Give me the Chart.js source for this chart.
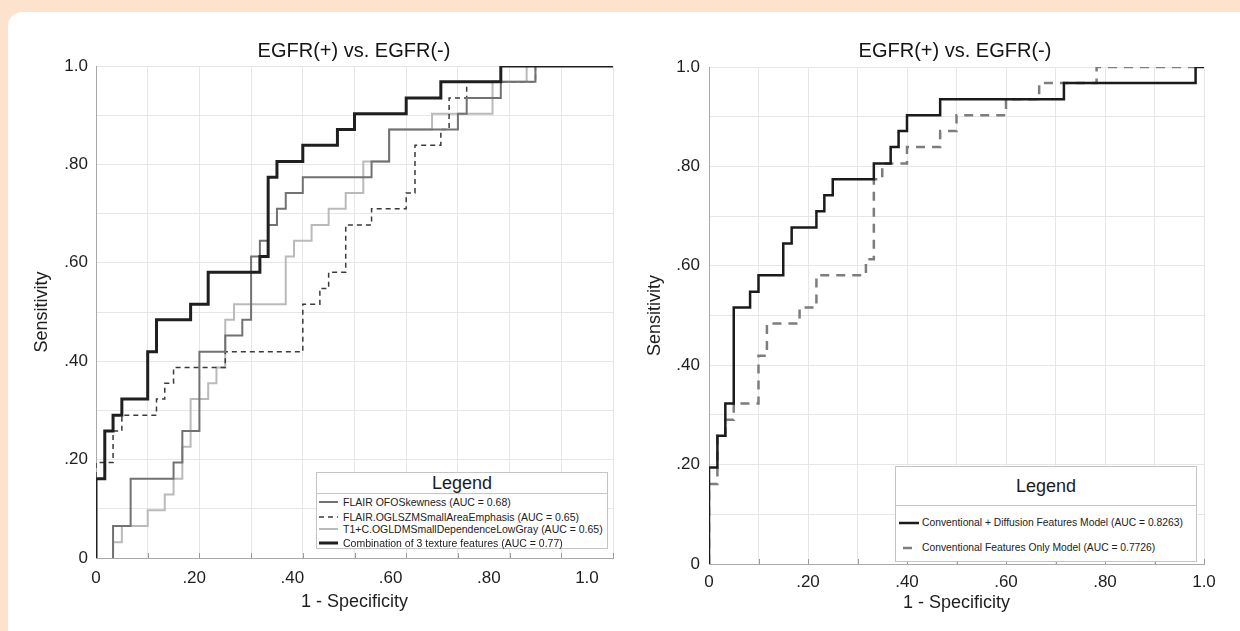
<!DOCTYPE html>
<html>
<head>
<meta charset="utf-8">
<script src="https://cdn.jsdelivr.net/npm/chart.js@4.4.1/dist/chart.umd.min.js"></script>
<style>
html,body{margin:0;padding:0;}
body{width:1240px;height:631px;background:#fde2cd;position:relative;overflow:hidden;font-family:"Liberation Sans",Arial,Helvetica,sans-serif;color:#1c1c1c;}
#card{position:absolute;left:8px;top:12px;width:1260px;height:660px;background:#ffffff;border-radius:14px;}
canvas.cv{position:absolute;top:0;}
.title{position:absolute;font-size:20px;color:#151515;white-space:nowrap;transform:translate(-50%,-50%);line-height:24px;}
.legend{position:absolute;background:#fff;border:1px solid #c4c4c4;box-sizing:border-box;}
.lgTitle{position:absolute;left:0;right:0;text-align:center;font-size:18px;color:#1c1c1c;}
.sep{position:absolute;left:0;right:0;height:0;border-top:1px solid #c4c4c4;}
.row{position:absolute;left:0;right:0;height:14px;}
.row svg{position:absolute;top:0;}
.row span{position:absolute;top:0;line-height:14px;white-space:nowrap;color:#222;}
</style>
</head>
<body>
<div id="card"></div>
<canvas id="leftChart" class="cv" width="620" height="631" style="left:0px"></canvas>
<canvas id="rightChart" class="cv" width="620" height="631" style="left:620px"></canvas>
<div class="title" id="titleL" style="left:354px;top:50px"></div>
<div class="title" id="titleR" style="left:955px;top:50px"></div>
<div class="legend" id="legL" style="left:316px;top:472px;width:292px;height:77px;"></div>
<div class="legend" id="legR" style="left:895px;top:466px;width:302px;height:96px;"></div>
<script>
// ---------- text ----------
const chartTitle = 'EGFR(+) vs. EGFR(-)';
const xAxisTitle = '1 - Specificity';
const yAxisTitle = 'Sensitivity';
const legendTitle = 'Legend';
const tickLabels = ['0', '.20', '.40', '.60', '.80', '1.0'];
const gridValues = [0, 0.1, 0.2, 0.3, 0.4, 0.5, 0.6, 0.7, 0.8, 0.9, 1.0];
// left chart: x tick labels are printed on their own (slightly compressed) scale
const leftLabelValues = [0, 0.2, 0.4, 0.6, 0.8, 1.0];
const leftLabelMax = 1.053;

// ---------- left chart series (ROC points: 1-specificity, sensitivity) ----------
const leftNames = [
  'FLAIR OFOSkewness (AUC = 0.68)',
  'FLAIR.OGLSZMSmallAreaEmphasis (AUC = 0.65)',
  'T1+C.OGLDMSmallDependenceLowGray (AUC = 0.65)',
  'Combination of 3 texture features (AUC = 0.77)'
];
const skewFpr = [0.033, 0.033, 0.067, 0.150, 0.167, 0.200, 0.250, 0.283, 0.300, 0.317, 0.333, 0.350, 0.367, 0.400, 0.533, 0.567, 0.700, 0.717, 0.783, 0.850, 1.000];
const skewTpr = [0.000, 0.065, 0.161, 0.194, 0.258, 0.419, 0.452, 0.484, 0.613, 0.645, 0.677, 0.710, 0.742, 0.774, 0.806, 0.871, 0.903, 0.935, 0.968, 1.000, 1.000];
const glszmFpr = [0.000, 0.000, 0.033, 0.050, 0.117, 0.133, 0.150, 0.250, 0.400, 0.433, 0.450, 0.483, 0.533, 0.600, 0.617, 0.667, 0.683, 0.717, 0.850, 1.000];
const glszmTpr = [0.000, 0.194, 0.258, 0.290, 0.323, 0.355, 0.387, 0.419, 0.516, 0.548, 0.581, 0.677, 0.710, 0.742, 0.839, 0.871, 0.935, 0.968, 1.000, 1.000];
const gldmFpr = [0.033, 0.033, 0.050, 0.100, 0.133, 0.150, 0.167, 0.183, 0.217, 0.233, 0.250, 0.267, 0.367, 0.383, 0.417, 0.450, 0.483, 0.517, 0.567, 0.650, 0.767, 0.833, 1.000];
const gldmTpr = [0.000, 0.032, 0.065, 0.097, 0.129, 0.161, 0.226, 0.323, 0.355, 0.387, 0.484, 0.516, 0.613, 0.645, 0.677, 0.710, 0.742, 0.806, 0.871, 0.903, 0.968, 1.000, 1.000];
const comboFpr = [0.000, 0.000, 0.017, 0.033, 0.050, 0.100, 0.117, 0.183, 0.217, 0.317, 0.333, 0.350, 0.400, 0.467, 0.500, 0.600, 0.667, 0.783, 1.000];
const comboTpr = [0.000, 0.161, 0.258, 0.290, 0.323, 0.419, 0.484, 0.516, 0.581, 0.613, 0.774, 0.806, 0.839, 0.871, 0.903, 0.935, 0.968, 1.000, 1.000];

// ---------- right chart series ----------
const rightNames = [
  'Conventional + Diffusion Features Model (AUC = 0.8263)',
  'Conventional Features Only Model (AUC = 0.7726)'
];
const diffFpr = [0.000, 0.000, 0.017, 0.033, 0.050, 0.083, 0.100, 0.150, 0.167, 0.217, 0.233, 0.250, 0.333, 0.367, 0.383, 0.400, 0.467, 0.717, 0.983, 1.000];
const diffTpr = [0.000, 0.194, 0.258, 0.323, 0.516, 0.548, 0.581, 0.645, 0.677, 0.710, 0.742, 0.774, 0.806, 0.839, 0.871, 0.903, 0.935, 0.968, 1.000, 1.000];
const convFpr = [0.000, 0.000, 0.017, 0.033, 0.050, 0.100, 0.117, 0.183, 0.217, 0.317, 0.333, 0.350, 0.400, 0.467, 0.500, 0.600, 0.667, 0.783, 1.000];
const convTpr = [0.000, 0.161, 0.258, 0.290, 0.323, 0.419, 0.484, 0.516, 0.581, 0.613, 0.774, 0.806, 0.839, 0.871, 0.903, 0.935, 0.968, 1.000, 1.000];

// ---------- helpers ----------
function staircase(xs, ys) {
  const pts = [];
  for (let i = 0; i < xs.length; i++) {
    if (i > 0) pts.push({x: xs[i], y: ys[i - 1]});
    pts.push({x: xs[i], y: ys[i]});
  }
  return pts;
}
const FONT = '"Liberation Sans", Arial, Helvetica, sans-serif';
const GRID = '#e6e6e6';
const AXIS = '#a9a9a9';
const TXT = '#1e1e1e';

const innerTicks = {
  id: 'innerTicks',
  beforeDatasetsDraw(chart, args, opts) {
    const ctx = chart.ctx, a = chart.chartArea, sx = chart.scales.x;
    ctx.save();
    ctx.strokeStyle = opts.color || '#9a9a9a';
    ctx.lineWidth = 1;
    sx.ticks.forEach(t => {
      const px = Math.round(sx.getPixelForValue(t.value)) + 0.5;
      ctx.beginPath();
      ctx.moveTo(px, a.bottom);
      ctx.lineTo(px, a.bottom - (opts.len || 5));
      ctx.stroke();
    });
    ctx.restore();
  }
};

function yScale(width, titlePad, labelPad) {
  return {
    type: 'linear', min: 0, max: 1, position: 'left',
    afterBuildTicks: s => { s.ticks = gridValues.map(v => ({value: v})); },
    ticks: {callback: (v, i) => (i % 2 === 0 ? tickLabels[i / 2] : ''), autoSkip: false,
            font: {family: FONT, size: 17}, color: TXT, padding: labelPad},
    grid: {color: GRID, drawTicks: false, lineWidth: 1},
    border: {display: true, color: AXIS, width: 1},
    title: {display: true, text: yAxisTitle, color: TXT, font: {family: FONT, size: 18},
            padding: {top: titlePad, bottom: 0}},
    afterFit: s => { s.width = width; }
  };
}

const baseOpts = {
  responsive: false, animation: false, devicePixelRatio: 1,
  plugins: {legend: {display: false}, tooltip: {enabled: false}, title: {display: false}},
  elements: {point: {radius: 0, hoverRadius: 0}, line: {tension: 0}}
};

// ---------- left chart ----------
new Chart(document.getElementById('leftChart'), {
  type: 'scatter',
  data: {
    datasets: [
      {label: leftNames[3], data: staircase(comboFpr, comboTpr), showLine: true, borderColor: '#1f1f1f', borderWidth: 3, xAxisID: 'x', yAxisID: 'y'},
      {label: leftNames[0], data: staircase(skewFpr, skewTpr), showLine: true, borderColor: '#727272', borderWidth: 2, xAxisID: 'x', yAxisID: 'y'},
      {label: leftNames[1], data: staircase(glszmFpr, glszmTpr), showLine: true, borderColor: '#3a3a3a', borderWidth: 1.5, borderDash: [5, 4], xAxisID: 'x', yAxisID: 'y'},
      {label: leftNames[2], data: staircase(gldmFpr, gldmTpr), showLine: true, borderColor: '#bababa', borderWidth: 2, xAxisID: 'x', yAxisID: 'y'}
    ]
  },
  options: Object.assign({}, baseOpts, {
    layout: {autoPadding: false, padding: {left: 0, right: 7, top: 66, bottom: 16}},
    plugins: Object.assign({}, baseOpts.plugins, {innerTicks: {len: 5, color: '#9a9a9a'}}),
    scales: {
      x: {
        type: 'linear', min: 0, max: 1, position: 'bottom',
        afterBuildTicks: s => { s.ticks = gridValues.map(v => ({value: v})); },
        ticks: {display: false},
        grid: {color: GRID, drawTicks: false, lineWidth: 1},
        border: {display: false},
        afterFit: s => { s.height = 0; }
      },
      xl: {
        type: 'linear', min: 0, max: leftLabelMax, position: 'bottom',
        afterBuildTicks: s => { s.ticks = leftLabelValues.map(v => ({value: v})); },
        ticks: {callback: (v, i) => tickLabels[i], autoSkip: false, maxRotation: 0,
                font: {family: FONT, size: 17}, color: TXT, padding: 10},
        grid: {display: false, drawTicks: false},
        border: {display: true, color: AXIS, width: 1},
        title: {display: true, text: xAxisTitle, color: TXT, font: {family: FONT, size: 18},
                padding: {top: 0, bottom: 2}},
        afterFit: s => { s.height = 57; }
      },
      y: yScale(96, 31, 8)
    }
  }),
  plugins: [innerTicks]
});

// ---------- right chart ----------
new Chart(document.getElementById('rightChart'), {
  type: 'scatter',
  data: {
    datasets: [
      {label: rightNames[0], data: staircase(diffFpr, diffTpr), showLine: true, borderColor: '#1b1b1b', borderWidth: 2.5},
      {label: rightNames[1], data: staircase(convFpr, convTpr), showLine: true, borderColor: '#7d7d7d', borderWidth: 2.5, borderDash: [9, 7]}
    ]
  },
  options: Object.assign({}, baseOpts, {
    layout: {autoPadding: false, padding: {left: 0, right: 36, top: 67, bottom: 15}},
    plugins: Object.assign({}, baseOpts.plugins, {innerTicks: {len: 5, color: '#9a9a9a'}}),
    scales: {
      x: {
        type: 'linear', min: 0, max: 1, position: 'bottom',
        afterBuildTicks: s => { s.ticks = gridValues.map(v => ({value: v})); },
        ticks: {callback: (v, i) => (i % 2 === 0 ? tickLabels[i / 2] : ''), autoSkip: false, maxRotation: 0,
                font: {family: FONT, size: 17}, color: TXT, padding: 8},
        grid: {color: GRID, drawTicks: false, lineWidth: 1},
        border: {display: true, color: AXIS, width: 1},
        title: {display: true, text: xAxisTitle, color: TXT, font: {family: FONT, size: 18},
                padding: {top: 0, bottom: 2}},
        afterFit: s => { s.height = 52; }
      },
      y: yScale(89, 24, 9)
    }
  }),
  plugins: [innerTicks]
});

// ---------- titles & legends (HTML text) ----------
document.getElementById('titleL').textContent = chartTitle;
document.getElementById('titleR').textContent = chartTitle;

function buildLegend(el, cfg) {
  const t = document.createElement('div');
  t.className = 'lgTitle';
  t.style.top = cfg.titleTop + 'px';
  t.style.lineHeight = cfg.titleH + 'px';
  t.style.height = cfg.titleH + 'px';
  t.textContent = legendTitle;
  el.appendChild(t);
  const sep = document.createElement('div');
  sep.className = 'sep';
  sep.style.top = cfg.sepTop + 'px';
  el.appendChild(sep);
  cfg.rows.forEach((r, i) => {
    const row = document.createElement('div');
    row.className = 'row';
    row.style.top = (r.cy - 7) + 'px';
    const dash = r.dash ? ` stroke-dasharray="${r.dash}"` : '';
    row.innerHTML = `<svg width="${r.x2 + 2}" height="14" style="left:0"><line x1="${r.x1}" y1="7" x2="${r.x2}" y2="7" stroke="${r.color}" stroke-width="${r.w}"${dash}/></svg>`;
    const sp = document.createElement('span');
    sp.style.left = cfg.textLeft + 'px';
    sp.style.fontSize = cfg.fontSize + 'px';
    sp.textContent = cfg.names[i];
    row.appendChild(sp);
    el.appendChild(row);
  });
}
buildLegend(document.getElementById('legL'), {
  titleTop: 0, titleH: 20, sepTop: 20, textLeft: 26, fontSize: 10.5, names: leftNames,
  rows: [
    {cy: 29, x1: 2, x2: 21, color: '#727272', w: 2},
    {cy: 44, x1: 2, x2: 21, color: '#3a3a3a', w: 1.5, dash: '5 4'},
    {cy: 56, x1: 2, x2: 21, color: '#bababa', w: 2},
    {cy: 70, x1: 2, x2: 21, color: '#1f1f1f', w: 3}
  ]
});
buildLegend(document.getElementById('legR'), {
  titleTop: 8, titleH: 22, sepTop: 38, textLeft: 26, fontSize: 10.3, names: rightNames,
  rows: [
    {cy: 56, x1: 3, x2: 23, color: '#1b1b1b', w: 2.5},
    {cy: 81, x1: 7, x2: 16, color: '#7d7d7d', w: 2.5}
  ]
});
</script>
</body>
</html>
